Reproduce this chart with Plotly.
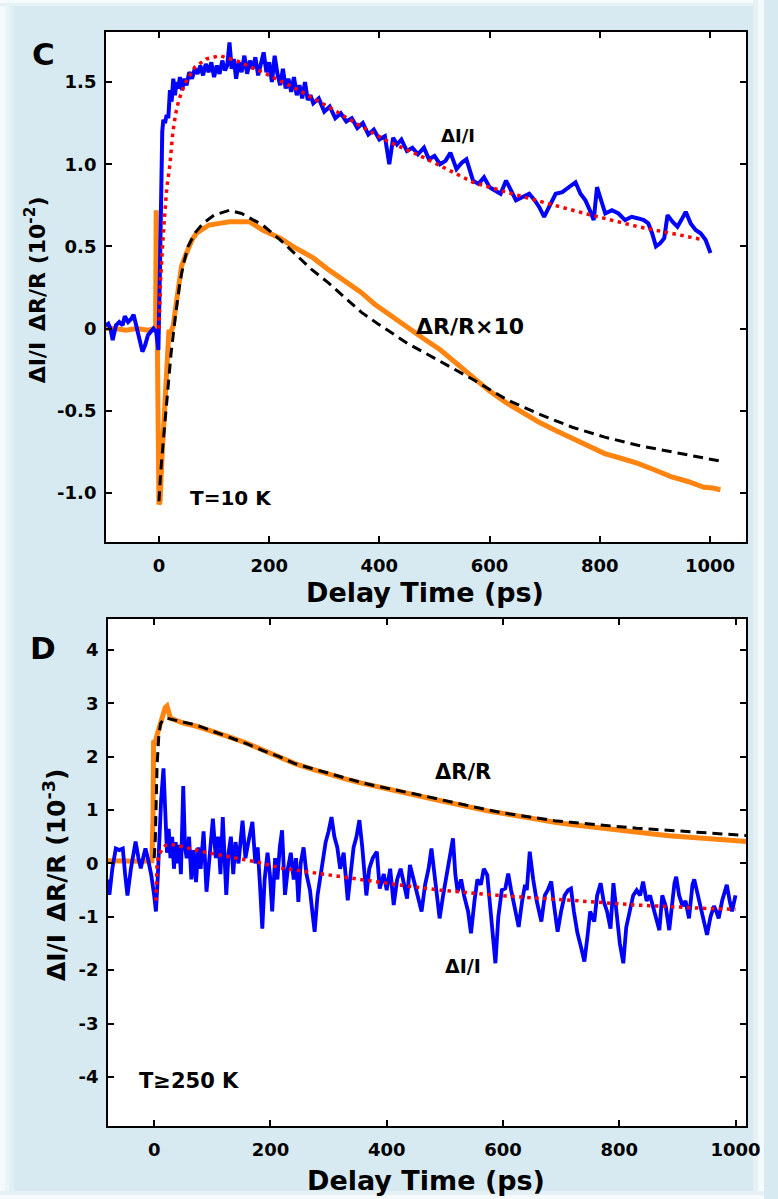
import plotly.graph_objects as go

# ---------------- Panel C (T = 10 K) ----------------
c_ii_x = [-97, -92, -88, -84, -78, -72, -66, -62, -56, -50,
          -46, -40, -35, -30, -25, -20, -15, -10, -5, -1,
          2, 4, 6, 8, 11, 14, 17, 20, 23, 26,
          29, 32, 35, 38, 42, 46, 50, 55, 60, 65,
          70, 75, 80, 85, 90, 95, 100, 105, 110, 115,
          120, 124, 128, 132, 136, 140, 145, 150, 155, 160,
          165, 170, 175, 180, 185, 190, 195, 200, 205, 210,
          215, 220, 225, 230, 235, 240, 245, 250, 255, 260,
          265, 270, 275, 280, 290, 300, 310, 320, 330, 340,
          350, 360, 370, 380, 390, 400, 410, 418, 425, 432,
          440, 450, 460, 470, 481, 490, 500, 510, 520, 529,
          540, 550, 558, 570, 580, 590, 600, 610, 620, 630,
          640, 648, 660, 672, 682, 690, 699, 710, 720, 732,
          745, 756, 765, 774, 782, 789, 795, 803, 810, 822,
          834, 846, 858, 870, 880, 888, 895, 902, 910, 917,
          923, 932, 941, 948, 956, 965, 974, 983, 992, 1001]
c_ii_y = [0.02, 0.03, 0.0, -0.07, 0.02, 0.04, 0.02, 0.075, 0.04, 0.06,
          0.085, 0.0, -0.08, -0.14, -0.1, -0.04, -0.02, 0.0, -0.02, -0.13,
          0.4, 0.9, 1.2, 1.27, 1.25, 1.3, 1.28, 1.45, 1.38, 1.52,
          1.42, 1.5, 1.46, 1.53, 1.45, 1.52, 1.48, 1.56, 1.52, 1.58,
          1.55, 1.6, 1.54, 1.61, 1.56, 1.62, 1.53, 1.6, 1.55, 1.63,
          1.57, 1.6, 1.74, 1.58, 1.64, 1.52, 1.62, 1.56, 1.66, 1.55,
          1.63, 1.58, 1.65, 1.54, 1.6, 1.68, 1.56, 1.62, 1.5, 1.66,
          1.55, 1.48, 1.58, 1.46, 1.52, 1.44, 1.53, 1.42, 1.48, 1.40,
          1.5, 1.39, 1.42, 1.37, 1.4, 1.32, 1.35, 1.28, 1.31, 1.26,
          1.28, 1.22, 1.25, 1.18, 1.21, 1.15, 1.17, 1.0, 1.16, 1.12,
          1.15, 1.08, 1.1, 1.06, 1.1, 1.03, 1.05, 1.0, 1.02, 1.07,
          0.97, 1.01, 1.03, 0.9, 0.88, 0.92, 0.86, 0.84, 0.82, 0.9,
          0.84, 0.78, 0.8, 0.82, 0.78, 0.74, 0.68, 0.76, 0.82, 0.83,
          0.86, 0.89, 0.82, 0.78, 0.72, 0.66, 0.86, 0.78, 0.7, 0.72,
          0.7, 0.66, 0.68, 0.67, 0.66, 0.64, 0.58, 0.5, 0.52, 0.55,
          0.69, 0.65, 0.62, 0.66, 0.71, 0.64, 0.6, 0.58, 0.54, 0.46]

c_ii_fit_x = [0, 3, 8, 14, 20, 25, 30, 36, 47, 65, 86, 110, 140, 188,
              248, 307, 367, 415, 481, 529, 570, 630, 708, 773, 869, 929, 989]
c_ii_fit_y = [0.0, 0.3, 0.58, 0.85, 1.0, 1.19, 1.3, 1.39, 1.49, 1.59, 1.64, 1.66, 1.63, 1.56,
              1.46, 1.35, 1.23, 1.14, 1.04, 0.96, 0.89, 0.83, 0.76, 0.70, 0.62, 0.58, 0.54]

c_rr_x = [-96, -80, -60, -40, -20, -8, -6, -5, -4, -2,
          0, 2, 6, 10, 14, 18, 22, 26, 30, 35,
          41, 50, 60, 68, 80, 91, 110, 128, 146, 164,
          188, 220, 248, 280, 307, 337, 367, 391, 420, 451,
          480, 511, 540, 570, 600, 630, 660, 690, 720, 750,
          780, 809, 840, 869, 900, 929, 960, 989, 1005, 1019]
c_rr_y = [0.0, 0.0, -0.01, 0.0, -0.01, 0.0, 0.02, 0.72, 0.4, -0.4,
          -1.07, -1.05, -0.75, -0.5, -0.25, -0.02, -0.02, 0.02, 0.12, 0.22,
          0.38, 0.46, 0.54, 0.58, 0.61, 0.63, 0.64, 0.65, 0.65, 0.65,
          0.6, 0.55, 0.49, 0.43, 0.36, 0.29, 0.22, 0.15, 0.08, 0.01,
          -0.06, -0.13, -0.21, -0.29, -0.38, -0.45, -0.51, -0.57, -0.62, -0.67,
          -0.72, -0.76, -0.79, -0.82, -0.86, -0.9, -0.93, -0.965, -0.97, -0.98]

c_rr_fit_x = [0, 3, 8, 15, 22, 30, 38, 45, 53, 65,
              80, 100, 128, 150, 188, 220, 248, 277, 307, 337,
              367, 397, 451, 511, 570, 630, 690, 750, 809, 869,
              929, 989, 1025]
c_rr_fit_y = [-1.05, -0.88, -0.68, -0.4, -0.15, 0.08, 0.28, 0.4, 0.5, 0.58,
              0.64, 0.69, 0.72, 0.7, 0.63, 0.54, 0.45, 0.36, 0.28, 0.19,
              0.1, 0.03, -0.09, -0.2, -0.31, -0.43, -0.52, -0.6, -0.66, -0.71,
              -0.75, -0.79, -0.81]

# ---------------- Panel D (T >= 250 K) ----------------
d_rr_x = [-80, -60, -40, -20, -4, -2, -1, 2, 6, 10,
          15, 19, 22, 25, 28, 40, 50, 73, 100, 129,
          160, 186, 215, 242, 270, 299, 330, 355, 378, 406,
          434, 462, 491, 519, 547, 575, 604, 632, 660, 689,
          717, 745, 773, 802, 830, 858, 886, 915, 943, 971,
          1000, 1022]
d_rr_y = [0.05, 0.04, 0.05, 0.04, 0.05, 0.8, 2.3, 2.28, 2.45, 2.6,
          2.75, 2.92, 2.95, 2.85, 2.72, 2.67, 2.63, 2.57, 2.48, 2.37,
          2.25, 2.13, 2.0, 1.87, 1.77, 1.67, 1.58, 1.51, 1.45, 1.39,
          1.32, 1.25, 1.18, 1.11, 1.04, 0.98, 0.93, 0.87, 0.82, 0.77,
          0.73, 0.69, 0.65, 0.62, 0.58, 0.55, 0.52, 0.5, 0.47, 0.45,
          0.43, 0.41]

d_rr_fit_x = [0, 2, 5, 8, 11, 16, 22, 30, 50, 73,
              100, 129, 160, 186, 215, 242, 270, 299, 330, 355,
              378, 406, 434, 462, 491, 519, 547, 575, 604, 632,
              660, 689, 717, 745, 773, 802, 830, 858, 886, 915,
              943, 971, 1000, 1022]
d_rr_fit_y = [0.1, 0.47, 1.84, 2.4, 2.62, 2.7, 2.72, 2.7, 2.65, 2.59,
              2.48, 2.37, 2.24, 2.12, 2.0, 1.87, 1.78, 1.69, 1.59, 1.52,
              1.46, 1.4, 1.34, 1.27, 1.2, 1.13, 1.06, 1.0, 0.94, 0.89,
              0.84, 0.8, 0.77, 0.74, 0.72, 0.69, 0.66, 0.64, 0.62, 0.59,
              0.57, 0.55, 0.53, 0.52]

d_ii_x = [-80, -77, -72, -66, -60, -54, -50, -46, -40, -32,
          -27, -23, -18, -15, -10, -5, 0, 3, 6, 9,
          12, 16, 19, 22, 25, 28, 31, 34, 37, 40,
          43, 46, 50, 53, 56, 60, 64, 68, 72, 76,
          80, 85, 90, 95, 101, 106, 110, 114, 118, 124,
          128, 132, 136, 140, 145, 152, 157, 162, 169, 174,
          178, 182, 186, 190, 195, 199, 203, 208, 212, 216,
          220, 225, 230, 235, 240, 244, 248, 252, 257, 262,
          268, 272, 276, 281, 286, 290, 295, 300, 305, 310,
          315, 320, 326, 333, 338, 343, 348, 353, 358, 365,
          370, 376, 383, 388, 395, 400, 406, 412, 418, 424,
          430, 435, 440, 446, 452, 460, 466, 472, 477, 484,
          491, 497, 503, 508, 514, 518, 522, 528, 533, 540,
          545, 551, 556, 562, 567, 573, 578, 583, 587, 592,
          598, 604, 609, 614, 620, 627, 633, 638, 641, 646,
          652, 658, 666, 672, 677, 683, 688, 694, 700, 706,
          712, 717, 722, 728, 735, 740, 745, 750, 757, 762,
          768, 773, 779, 785, 790, 795, 801, 807, 812, 818,
          824, 830, 836, 841, 847, 853, 858, 864, 869, 874,
          880, 886, 891, 895, 898, 903, 909, 914, 920, 926,
          929, 935, 941, 946, 951, 957, 963, 967, 971, 977,
          982, 985, 990, 994, 1000]
d_ii_y = [-0.3, -0.59, -0.1, 0.28, 0.25, 0.28, -0.2, -0.6, -0.1, 0.41,
          0.1, -0.09, 0.15, 0.28, 0.05, -0.22, -0.6, -0.9, -0.3, 0.6,
          1.2, 1.78, 0.8, 0.2, 0.65, 0.1, 0.5, -0.1, 0.4, 0.0,
          0.35, -0.2, 1.45, 0.3, 0.1, 0.5, -0.3, 0.25, -0.35, 0.3,
          -0.1, 0.6, -0.53, 0.2, 0.84, 0.1, 0.5, -0.2, 0.87, -0.59,
          0.2, 0.5, -0.2, 0.4, 0.0, 0.8, 0.1, 0.4, 0.78, 0.0,
          0.3, -0.4, -1.22, -0.3, 0.2, -0.2, -0.9, 0.1, -0.3, 0.3,
          0.62, -0.59, -0.1, 0.2, -0.3, 0.1, -0.72, 0.0, 0.3, -0.2,
          -0.5, -0.9, -1.28, -0.6, -0.2, 0.1, 0.4, 0.6, 0.87, 0.5,
          0.3, -0.1, 0.2, -0.69, -0.2, 0.3, 0.5, 0.81, 0.3, -0.6,
          -0.1, 0.1, 0.22, -0.47, -0.2, -0.5, -0.1, -0.78, -0.3, -0.1,
          -0.4, -0.66, -0.03, -0.3, -0.5, -0.9, -0.4, -0.1, 0.28, -0.4,
          -1.03, -0.6, -0.2, 0.1, 0.47, -0.2, -0.53, -0.3, -0.6, -0.9,
          -1.31, -0.7, -0.3, -0.4, -0.1, -0.22, -0.8, -1.3, -1.87, -1.0,
          -0.5, -0.47, -0.19, -0.5, -0.8, -1.19, -0.7, -0.4, -0.5, 0.22,
          -0.3, -0.7, -1.09, -0.6, -0.5, -0.34, -0.8, -1.28, -0.9, -0.6,
          -0.5, -0.47, -0.9, -1.3, -1.6, -1.84, -1.4, -0.9, -1.09, -0.6,
          -0.37, -0.7, -0.9, -1.22, -0.37, -0.9, -1.5, -1.87, -1.2, -0.9,
          -0.6, -0.5, -0.6, -0.34, -0.7, -0.6, -0.8, -1.0, -1.25, -0.6,
          -0.8, -1.25, -0.8, -0.37, -0.25, -0.6, -0.8, -0.7, -1.03, -0.4,
          -0.3, -0.6, -0.9, -1.1, -1.34, -1.0, -0.8, -0.9, -1.03, -0.7,
          -0.5, -0.4, -0.7, -0.9, -0.6]

d_ii_fit_x = [3, 4, 5, 8, 14, 20, 28, 50, 84, 129,
              175, 220, 242, 299, 355, 406, 491, 604, 717, 830,
              943, 1000]
d_ii_fit_y = [-0.7, -0.4, 0.0, 0.15, 0.28, 0.34, 0.36, 0.31, 0.22, 0.125,
              0.03, -0.09, -0.125, -0.22, -0.31, -0.38, -0.5, -0.61, -0.69, -0.78,
              -0.84, -0.86]

x_tickvals = [0, 200, 400, 600, 800, 1000]
c_y_tickvals = [-1.0, -0.5, 0, 0.5, 1.0, 1.5]
c_y_ticktext = ["-1.0", "-0.5", "0", "0.5", "1.0", "1.5"]
d_y_tickvals = [-4, -3, -2, -1, 0, 1, 2, 3, 4]
d_y_ticktext = ["-4", "-3", "-2", "-1", "0", "1", "2", "3", "4"]

BLUE = "#0000ff"
ORANGE = "#ff8410"
RED = "#ff0000"
FONT = "DejaVu Sans"

W, H = 778, 1199

fig = go.Figure()

def add(x, y, ax, color, width, dash="solid"):
    fig.add_trace(go.Scatter(x=x, y=y, mode="lines", xaxis="x" + ax, yaxis="y" + ax,
                             line=dict(color=color, width=width, dash=dash),
                             showlegend=False, hoverinfo="skip"))

# Panel C traces
add(c_rr_x, c_rr_y, "", ORANGE, 5)
add(c_rr_fit_x, c_rr_fit_y, "", "black", 3, "10px,6px")
add(c_ii_x, c_ii_y, "", BLUE, 4)
add(c_ii_fit_x, c_ii_fit_y, "", RED, 3.5, "3.5px,4.5px")
# Panel D traces
add(d_rr_x, d_rr_y, "2", ORANGE, 5)
add(d_rr_fit_x, d_rr_fit_y, "2", "black", 3, "10px,6px")
add(d_ii_x, d_ii_y, "2", BLUE, 3.8)
add(d_ii_fit_x, d_ii_fit_y, "2", RED, 3.5, "3.5px,4.5px")

tickfont = dict(family=FONT, size=18, color="black", weight="bold")
axis_common = dict(showline=True, linecolor="black", linewidth=2, mirror="ticks",
                   ticks="inside", ticklen=6, tickwidth=2, tickcolor="black",
                   showgrid=False, zeroline=False, tickfont=tickfont, fixedrange=True)

def px_x(p):
    return p / W

def px_y(p):
    return 1 - p / H

fig.update_layout(
    width=W, height=H,
    margin=dict(l=0, r=0, t=0, b=0),
    paper_bgcolor="#d8eaf1",
    plot_bgcolor="white",
    xaxis=dict(domain=[px_x(108), px_x(760)], range=[-96, 1066], anchor="y",
               tickvals=x_tickvals, ticklabelstandoff=6, **axis_common),
    yaxis=dict(domain=[px_y(542), px_y(32)], range=[-1.298, 1.804], anchor="x",
               tickvals=c_y_tickvals, ticktext=c_y_ticktext, ticklabelstandoff=4, **axis_common),
    xaxis2=dict(domain=[px_x(110), px_x(760)], range=[-79.4, 1018.6], anchor="y2",
                tickvals=x_tickvals, ticklabelstandoff=6, **axis_common),
    yaxis2=dict(domain=[px_y(1126), px_y(619)], range=[-4.92, 4.58], anchor="x2",
                tickvals=d_y_tickvals, ticktext=d_y_ticktext, ticklabelstandoff=4, **axis_common),
)

# soft lighter frame at the edges of the picture
shapes = []
for (x0, x1, y0, y1, col) in [
    (0, 5, 0, H, "#f5fafc"), (5, 10, 0, H, "#ebf4f8"), (10, 14, 0, H, "#e1eff4"),
    (0, W, 0, 3, "#f5fafc"), (0, W, 3, 6, "#e6f1f6"),
    (772, W, 0, H, "#f5fafc"), (767, 772, 0, H, "#e6f1f6"),
    (0, W, 1195, H, "#f5fafc"), (0, W, 1191, 1195, "#e6f1f6"),
]:
    shapes.append(dict(type="rect", xref="paper", yref="paper",
                       x0=px_x(x0), x1=px_x(x1), y0=px_y(y1), y1=px_y(y0),
                       fillcolor=col, line=dict(width=0), layer="below"))
fig.update_layout(shapes=shapes)

def ann(text, x, y, size, xref="paper", yref="paper", angle=0):
    fig.add_annotation(text=text, x=x, y=y, xref=xref, yref=yref, showarrow=False,
                       textangle=angle, xanchor="center", yanchor="middle",
                       font=dict(family=FONT, size=size, color="black", weight="bold"))

# panel letters
ann("C", px_x(44), px_y(54), 31)
ann("D", px_x(44), px_y(648), 31)
# axis titles
ann("Delay Time (ps)", px_x(433), px_y(593), 27)
ann("Delay Time (ps)", px_x(434), px_y(1180), 27)
ann("ΔI/I\u2002ΔR/R (10<sup>-2</sup>)", px_x(36), px_y(290), 22, angle=-90)
ann("ΔI/I\u2002ΔR/R (10<sup>-3</sup>)", px_x(57), px_y(875), 25, angle=-90)
# curve labels
ann("ΔI/I", 542, 1.176, 18, "x", "y")
ann("ΔR/R×10", 565, 0.01, 22, "x", "y")
ann("T=10 K", 131, -1.03, 20, "x", "y")
ann("ΔR/R", 532, 1.72, 21, "x2", "y2")
ann("ΔI/I", 532, -1.92, 19, "x2", "y2")
ann("T≥250 K", 60, -4.07, 21, "x2", "y2")

fig.write_html("out.html")
